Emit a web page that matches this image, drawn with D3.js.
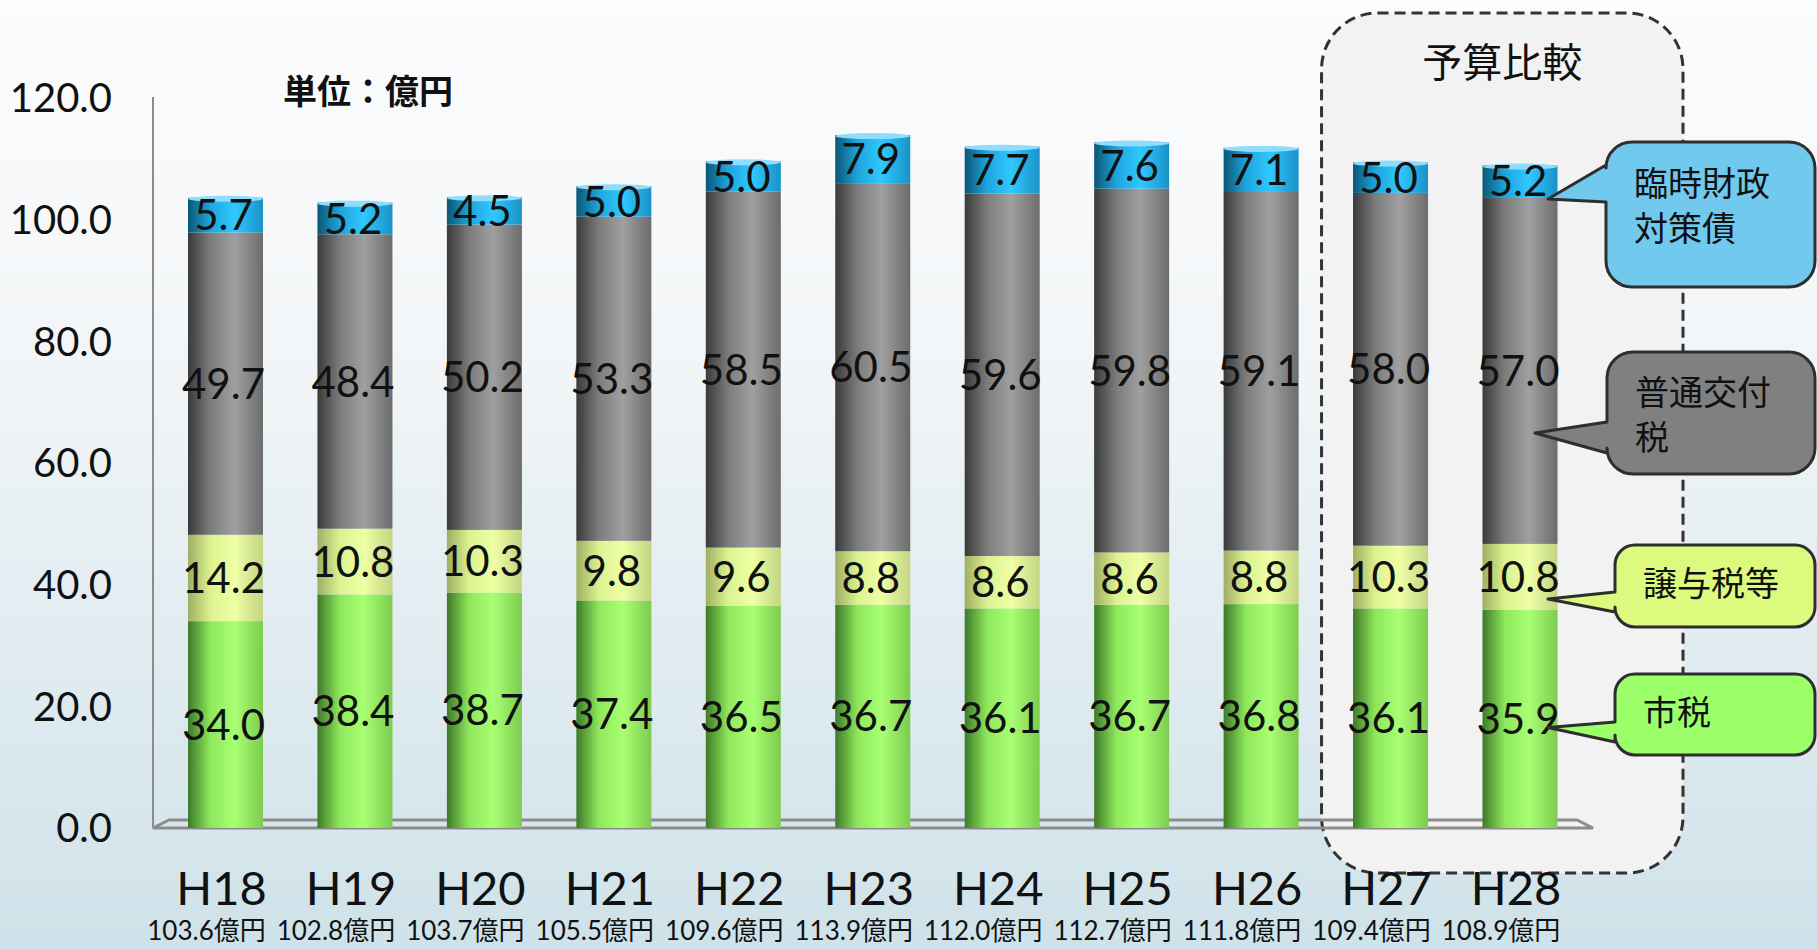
<!DOCTYPE html>
<html>
<head>
<meta charset="utf-8">
<script src="https://cdn.jsdelivr.net/npm/d3@7"></script>
<style>
	body { margin: 0; overflow: hidden; }
	svg { display: block; }
</style>
</head>
<body>
<div id="chart"></div>
<script>
// data (億円)
const categories = ["H18", "H19", "H20", "H21", "H22", "H23", "H24", "H25", "H26", "H27", "H28"];
const shizei = [34.0, 38.4, 38.7, 37.4, 36.5, 36.7, 36.1, 36.7, 36.8, 36.1, 35.9];
const joyozei = [14.2, 10.8, 10.3, 9.8, 9.6, 8.8, 8.6, 8.6, 8.8, 10.3, 10.8];
const kofuzei = [49.7, 48.4, 50.2, 53.3, 58.5, 60.5, 59.6, 59.8, 59.1, 58.0, 57.0];
const rinzai = [5.7, 5.2, 4.5, 5.0, 5.0, 7.9, 7.7, 7.6, 7.1, 5.0, 5.2];
const totals = [103.6, 102.8, 103.7, 105.5, 109.6, 113.9, 112.0, 112.7, 111.8, 109.4, 108.9];
const seriesNames = ["市税", "譲与税等", "普通交付税", "臨時財政対策債"];
const yTicks = [0, 20, 40, 60, 80, 100, 120];
const budgetCats = ["H27", "H28"];

const width = 1817, height = 949;
const latin = "Lato, 'Noto Sans CJK JP', sans-serif";
const cjk = "'Noto Sans CJK JP', sans-serif";

let svg = d3.select("#chart").append("svg")
	.attr("width", width)
	.attr("height", height);

let defs = svg.append("defs");

let bg = defs.append("linearGradient").attr("id", "bg")
	.attr("x1", 0).attr("y1", 0).attr("x2", 0).attr("y2", 1);
bg.append("stop").attr("offset", "0%").attr("stop-color", "#fcfcfd");
bg.append("stop").attr("offset", "35%").attr("stop-color", "#f3f6f8");
bg.append("stop").attr("offset", "100%").attr("stop-color", "#cfe2e9");

// cylinder shading per series: dark edge, highlight, mid
let shades = [
	["#3d7a28", "#8fe85c", "#a8ff72", "#7ccc4e"],
	["#9fae62", "#dcf290", "#eeffa4", "#c3d484"],
	["#3a3a3a", "#7c7c7c", "#a0a0a0", "#6c6c6c"],
	["#0b5675", "#1ea6dd", "#2fc8ff", "#1a92c6"]
];
shades.forEach((s, i) => {
	let g = defs.append("linearGradient").attr("id", "cyl" + i)
		.attr("x1", 0).attr("y1", 0).attr("x2", 1).attr("y2", 0);
	g.append("stop").attr("offset", "0%").attr("stop-color", s[0]);
	g.append("stop").attr("offset", "30%").attr("stop-color", s[1]);
	g.append("stop").attr("offset", "62%").attr("stop-color", s[2]);
	g.append("stop").attr("offset", "100%").attr("stop-color", s[3]);
});

svg.append("rect").attr("width", width).attr("height", height).attr("fill", "url(#bg)");

let x = d3.scalePoint()
	.domain(categories)
	.range([225.5, 1520]);

let y = d3.scaleLinear()
	.domain([0, 120])
	.range([828, 98]);

let barW = 75;

// budget comparison box
let bx0 = x(budgetCats[0]) - 69, bx1 = x(budgetCats[1]) + 163;
svg.append("rect")
	.attr("x", bx0).attr("y", 13)
	.attr("width", bx1 - bx0).attr("height", 860)
	.attr("rx", 56).attr("ry", 56)
	.attr("fill", "#f2f2f2")
	.attr("stroke", "#333")
	.attr("stroke-width", 3)
	.attr("stroke-dasharray", "11,6");

svg.append("text")
	.attr("x", (bx0 + bx1) / 2)
	.attr("y", 77)
	.attr("text-anchor", "middle")
	.attr("font-family", cjk)
	.attr("font-size", 40)
	.attr("fill", "#111")
	.text("予算比較");

// floor
let floorL = 153, floorR = 1593, floorD = 16, floorH = 8;
svg.append("path")
	.attr("d", `M${floorL},${y(0)} L${floorR},${y(0)} L${floorR - floorD},${y(0) - floorH} L${floorL + floorD},${y(0) - floorH} Z`)
	.attr("fill", "none")
	.attr("stroke", "#8c8c8c")
	.attr("stroke-width", 3);

svg.append("line")
	.attr("x1", floorL).attr("x2", floorL)
	.attr("y1", y(120) - 1).attr("y2", y(0))
	.attr("stroke", "#8c8c8c")
	.attr("stroke-width", 2);

// y axis labels
svg.selectAll(".ytick")
	.data(yTicks)
	.enter()
	.append("text")
	.attr("class", "ytick")
	.attr("x", 112)
	.attr("y", d => y(d))
	.attr("dy", ".36em")
	.attr("text-anchor", "end")
	.attr("font-family", latin)
	.attr("font-size", 40)
	.attr("fill", "#111")
	.text(d => d3.format(".1f")(d));

svg.append("text")
	.attr("x", 283)
	.attr("y", 104)
	.attr("font-family", cjk)
	.attr("font-weight", "bold")
	.attr("font-size", 34)
	.attr("fill", "#111")
	.text("単位：億円");

// stacked cylinders
let table = categories.map((c, i) => ({
	cat: c, s0: shizei[i], s1: joyozei[i], s2: kofuzei[i], s3: rinzai[i]
}));
let keys = ["s0", "s1", "s2", "s3"];
let stack = d3.stack().keys(keys)(table);

let layers = svg.selectAll(".layer")
	.data(stack)
	.enter()
	.append("g")
	.attr("class", "layer")
	.attr("fill", (d, i) => "url(#cyl" + i + ")");

layers.selectAll("rect")
	.data(d => d)
	.enter()
	.append("rect")
	.attr("x", d => x(d.data.cat) - barW / 2)
	.attr("y", d => y(d[1]))
	.attr("width", barW)
	.attr("height", d => y(d[0]) - y(d[1]));

// top rim of each cylinder
svg.selectAll(".rim")
	.data(stack[3])
	.enter()
	.append("ellipse")
	.attr("class", "rim")
	.attr("cx", d => x(d.data.cat))
	.attr("cy", d => y(d[1]) + 1)
	.attr("rx", barW / 2)
	.attr("ry", 3)
	.attr("fill", "#8fdcff");

// value labels
stack.forEach((layer, li) => {
	svg.selectAll(".lab" + li)
		.data(layer)
		.enter()
		.append("text")
		.attr("class", "lab" + li)
		.attr("x", d => x(d.data.cat) - 2)
		.attr("y", d => y((d[0] + d[1]) / 2))
		.attr("dy", ".36em")
		.attr("text-anchor", "middle")
		.attr("font-family", latin)
		.attr("font-size", 42)
		.attr("fill", "#111")
		.text(d => d3.format(".1f")(d[1] - d[0]));
});

// category and total labels
svg.selectAll(".cat")
	.data(categories)
	.enter()
	.append("text")
	.attr("class", "cat")
	.attr("x", d => x(d) - 4)
	.attr("y", 905)
	.attr("text-anchor", "middle")
	.attr("font-family", latin)
	.attr("font-size", 47)
	.attr("fill", "#111")
	.text(d => d);

svg.selectAll(".tot")
	.data(totals)
	.enter()
	.append("text")
	.attr("class", "tot")
	.attr("x", (d, i) => x(categories[i]) - 19)
	.attr("y", 940)
	.attr("text-anchor", "middle")
	.attr("font-family", latin)
	.attr("font-size", 26)
	.attr("fill", "#111")
	.text(d => d3.format(".1f")(d) + "億円");

// callouts pointing at the H28 cylinder
let last = table[table.length - 1];
let lastStack = stack.map(l => l[l.length - 1]);
let callouts = [
	{ si: 3, fill: "#72c9ee", top: 142, bottom: 287, left: 1606, baseTop: 165, baseBot: 202, tipX: 28, tipFrac: -0.06, r: 26, lines: ["臨時財政", "対策債"], ty: 196 },
	{ si: 2, fill: "#808080", top: 352, bottom: 474, left: 1607, baseTop: 422, baseBot: 453, tipX: 15, tipFrac: 0.32, r: 26, lines: ["普通交付", "税"], ty: 405 },
	{ si: 1, fill: "#dcfa7e", top: 545, bottom: 627, left: 1615, baseTop: 592, baseBot: 612, tipX: 28, tipFrac: 0.16, r: 20, lines: ["譲与税等"], ty: 596 },
	{ si: 0, fill: "#9bff6a", top: 674, bottom: 755, left: 1615, baseTop: 722, baseBot: 742, tipX: 28, tipFrac: 0.46, r: 20, lines: ["市税"], ty: 725 }
];
let right = 1815;

callouts.forEach(c => {
	let seg = lastStack[c.si];
	let tx = x(last.cat) + c.tipX;
	let ty = y(seg[0] + (seg[1] - seg[0]) * c.tipFrac);
	let L = c.left, T = c.top, B = c.bottom, r = c.r;
	let d = `M${L},${T + r} A${r},${r} 0 0 1 ${L + r},${T} L${right - r},${T} A${r},${r} 0 0 1 ${right},${T + r}` +
		` L${right},${B - r} A${r},${r} 0 0 1 ${right - r},${B} L${L + r},${B} A${r},${r} 0 0 1 ${L},${B - r}` +
		` L${L},${c.baseBot} L${tx},${ty} L${L},${c.baseTop} Z`;
	svg.append("path")
		.attr("d", d)
		.attr("fill", c.fill)
		.attr("stroke", "#2e2e2e")
		.attr("stroke-width", 3)
		.attr("stroke-linejoin", "round");
	c.lines.forEach((t, k) => {
		svg.append("text")
			.attr("x", L + 28)
			.attr("y", c.ty + k * 45)
			.attr("font-family", cjk)
			.attr("font-size", 34)
			.attr("fill", "#111")
			.text(t);
	});
});
</script>
</body>
</html>
